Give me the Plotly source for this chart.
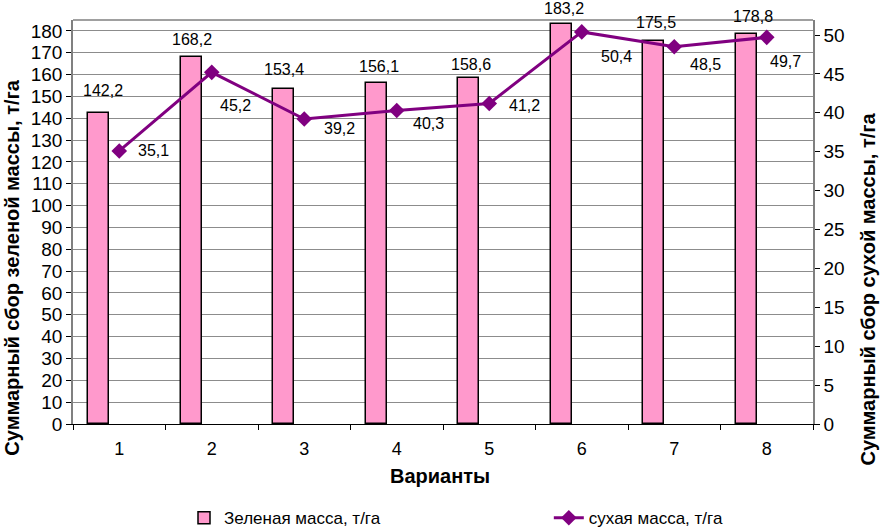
import plotly.graph_objects as go

# ─── Данные ───
VARIANTS = ["1", "2", "3", "4", "5", "6", "7", "8"]
GREEN_MASS = [142.2, 168.2, 153.4, 156.1, 158.6, 183.2, 175.5, 178.8]
DRY_MASS = [35.1, 45.2, 39.2, 40.3, 41.2, 50.4, 48.5, 49.7]

# сдвиги подписей (px), подобраны по картинке
BAR_LABEL_DY = [23, 17, 20, 17, 13, 15, 18, 17]
BAR_LABEL_DX = [-16, -20, -20, -18, -18, -18, -18, -14]
LINE_LABEL_DX = [34, 24, 35, 32, 35, 35, 31, 19]
LINE_LABEL_DY = [0, -33, -9, -13, -2, -25, -18, -24]

COLORS = {
    "bar": "#ff99cc",
    "line": "#800080",
    "grid": "#8c8c8c",
    "axis": "#808080",
    "text": "#000000",
}
FONT = "Liberation Sans, Arial, sans-serif"

fig = go.Figure()

fig.add_trace(go.Bar(
    x=VARIANTS, y=GREEN_MASS, name="Зеленая масса, т/га",
    marker=dict(color=COLORS["bar"], line=dict(color="#000000", width=1.5)),
    width=0.225, offset=-0.335, legend="legend",
))

fig.add_trace(go.Scatter(
    x=VARIANTS, y=DRY_MASS, name="сухая масса, т/га", yaxis="y2",
    mode="lines+markers",
    line=dict(color=COLORS["line"], width=3),
    marker=dict(symbol="diamond", size=12, color=COLORS["line"]),
    legend="legend2",
))

# ── Подписи значений (x — позиция категории) ──
for i, g in enumerate(GREEN_MASS):
    fig.add_annotation(
        x=i, y=g, xref="x", yref="y", text=f"{g:.1f}".replace(".", ","),
        showarrow=False, xshift=BAR_LABEL_DX[i], yshift=BAR_LABEL_DY[i],
        font=dict(size=16, color=COLORS["text"], family=FONT),
    )
for i, d in enumerate(DRY_MASS):
    fig.add_annotation(
        x=i, y=d, xref="x", yref="y2", text=f"{d:.1f}".replace(".", ","),
        showarrow=False, xshift=LINE_LABEL_DX[i], yshift=LINE_LABEL_DY[i],
        font=dict(size=16, color=COLORS["text"], family=FONT),
    )

# ── Заголовки осей (как в Excel — не по центру области) ──
TITLE_FONT = dict(size=20, color=COLORS["text"], family=FONT)
fig.add_annotation(
    text="<b>Суммарный сбор зеленой массы, т/га</b>", textangle=-90,
    xref="paper", yref="paper", x=-0.083, y=0.386,
    xanchor="center", yanchor="middle", showarrow=False, font=TITLE_FONT,
)
fig.add_annotation(
    text="<b>Суммарный сбор сухой массы, т/га</b>", textangle=-90,
    xref="paper", yref="paper", x=1.075, y=0.334,
    xanchor="center", yanchor="middle", showarrow=False, font=TITLE_FONT,
)
fig.add_annotation(
    text="<b>Варианты</b>", xref="paper", yref="paper", x=0.496, y=-0.1287,
    xanchor="center", yanchor="middle", showarrow=False, font=TITLE_FONT,
)

LEGEND_BASE = dict(
    orientation="h", y=-0.233, xanchor="left", yanchor="middle",
    font=dict(size=17), bgcolor="rgba(0,0,0,0)",
)

fig.update_layout(
    width=883, height=531,
    paper_bgcolor="white", plot_bgcolor="white",
    font=dict(family=FONT, color=COLORS["text"], size=17),
    margin=dict(l=73, r=70, t=20, b=107, autoexpand=False),
    showlegend=True,
    legend=dict(**LEGEND_BASE, x=0.15),
    legend2=dict(**LEGEND_BASE, x=0.643),
    bargap=0,
    xaxis=dict(
        type="category", range=[-0.5, 7.5],
        tickson="boundaries", ticks="outside", ticklen=5, tickcolor="#000000",
        tickfont=dict(size=18), ticklabelstandoff=8,
        showline=True, linecolor="#000000", linewidth=1,
        mirror=False, showgrid=False,
    ),
    yaxis=dict(
        range=[0, 185], dtick=10, tick0=0,
        ticks="outside", ticklen=5, tickcolor="#000000",
        tickfont=dict(size=19),
        showgrid=True, gridcolor=COLORS["grid"], gridwidth=1,
        showline=True, linecolor=COLORS["axis"], linewidth=1.5,
        zeroline=False,
    ),
    yaxis2=dict(
        overlaying="y", side="right",
        range=[0, 51.93], dtick=5, tick0=0,
        ticks="outside", ticklen=5, tickcolor="#000000",
        tickfont=dict(size=19),
        showgrid=False, zeroline=False,
        showline=True, linecolor=COLORS["axis"], linewidth=1.5,
    ),
)

# верхняя рамка области построения
fig.add_shape(type="line", xref="paper", yref="paper", x0=0, x1=1, y0=1, y1=1,
              line=dict(color=COLORS["axis"], width=1.5))

# убираем стандартный отступ body, чтобы график лёг в окно 883x531
fig.write_html("out.html", config={"displayModeBar": False},
               post_script="document.body.style.margin='0';")
